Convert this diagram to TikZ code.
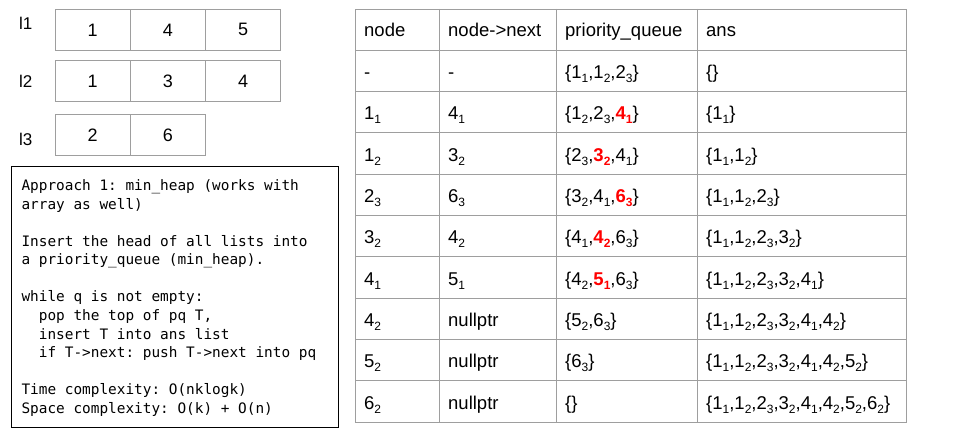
\documentclass[tikz,border=0pt]{standalone}
\usepackage{fontspec}
\setmainfont{Liberation Sans}
\newfontfamily\codefont{DejaVu Sans Mono}
\definecolor{gridgray}{HTML}{9E9E9E}
\definecolor{hotred}{HTML}{FF0000}
\newcommand\subn[1]{\raisebox{-4.2pt}{\fontsize{12}{12}\selectfont #1}}
\newcommand\redsub[2]{\textcolor{hotred}{\bfseries #1\subn{#2}}}
\newcommand\cl[1]{\hbox{\strut #1}}
\tikzset{
  grid/.style={draw=gridgray, line width=0.9pt},
  txt/.style={anchor=base west, inner sep=0pt, font=\fontsize{18.5}{22}\selectfont},
  listcell/.style={draw=gridgray, line width=0.9pt, minimum width=75.3pt, minimum height=41.3pt, inner sep=0pt, font=\fontsize{18}{22}\selectfont},
  lbl/.style={anchor=base west, inner sep=0pt, font=\fontsize{17}{20}\selectfont},
  codebox/.style={draw=black, line width=1pt, anchor=north west, minimum width=327pt, minimum height=261pt, inner sep=0pt},
  codetxt/.style={anchor=base west, inner sep=0pt, font=\codefont\fontsize{14.4}{18.55}\selectfont}
}
\begin{document}
\begin{tikzpicture}[x=1pt,y=-1pt]
\useasboundingbox (0,0) rectangle (960,435);
% lists
\node[lbl] (lab1) at (19,29.3) {l1};
\node[lbl] (lab2) at (19,87.7) {l2};
\node[lbl] (lab3) at (19,146) {l3};
\node[listcell] (l1a) at (92.65,29.9) {1};
\node[listcell] (l1b) at (167.95,29.9) {4};
\node[listcell] (l1c) at (243.25,29.9) {5};
\node[listcell] (l2a) at (92.65,80.9) {1};
\node[listcell] (l2b) at (167.95,80.9) {3};
\node[listcell] (l2c) at (243.25,80.9) {4};
\node[listcell] (l3a) at (92.65,135.2) {2};
\node[listcell] (l3b) at (167.95,135.2) {6};
% code box
\node[codebox] (code) at (11,166) {};
\node[codetxt] (codetext) at (21.3,190.7) {\frenchspacing\lineskiplimit=-100pt\lineskip=0pt\vtop{%
\hbox{Approach 1: min\_heap (works with}
\hbox{array as well)}
\hbox{}
\hbox{Insert the head of all lists into}
\hbox{a priority\_queue (min\_heap).}
\hbox{}
\hbox{while q is not empty:}
\hbox{\phantom{xx}pop the top of pq T,}
\hbox{\phantom{xx}insert T into ans list}
\hbox{\phantom{xx}if T->next: push T->next into pq}
\hbox{}
\hbox{Time complexity: O(nklogk)}
\hbox{Space complexity: O(k) + O(n)}}};
% table grid
\draw[grid] (355,9) rectangle (906,422);
\foreach \yy in {50,91.33,132.67,174,215.33,256.67,298,339.33,380.67}
  \draw[grid] (355,\yy) -- (906,\yy);
\foreach \xx in {439,556,697}
  \draw[grid] (\xx,9) -- (\xx,422);
% header
\node[txt] (h-a) at (364,36.5) {node};
\node[txt] (h-b) at (448,36.5) {node->next};
\node[txt] (h-c) at (565,36.5) {priority\_queue};
\node[txt] (h-d) at (706,36.5) {ans};
% rows
\foreach [count=\i] \a/\b/\c/\d in {
  {-}/{-}/{\{1\subn{1},1\subn{2},2\subn{3}\}}/{\{\}},
  {1\subn{1}}/{4\subn{1}}/{\{1\subn{2},2\subn{3},\redsub{4}{1}\}}/{\{1\subn{1}\}},
  {1\subn{2}}/{3\subn{2}}/{\{2\subn{3},\redsub{3}{2},4\subn{1}\}}/{\{1\subn{1},1\subn{2}\}},
  {2\subn{3}}/{6\subn{3}}/{\{3\subn{2},4\subn{1},\redsub{6}{3}\}}/{\{1\subn{1},1\subn{2},2\subn{3}\}},
  {3\subn{2}}/{4\subn{2}}/{\{4\subn{1},\redsub{4}{2},6\subn{3}\}}/{\{1\subn{1},1\subn{2},2\subn{3},3\subn{2}\}},
  {4\subn{1}}/{5\subn{1}}/{\{4\subn{2},\redsub{5}{1},6\subn{3}\}}/{\{1\subn{1},1\subn{2},2\subn{3},3\subn{2},4\subn{1}\}},
  {4\subn{2}}/{nullptr}/{\{5\subn{2},6\subn{3}\}}/{\{1\subn{1},1\subn{2},2\subn{3},3\subn{2},4\subn{1},4\subn{2}\}},
  {5\subn{2}}/{nullptr}/{\{6\subn{3}\}}/{\{1\subn{1},1\subn{2},2\subn{3},3\subn{2},4\subn{1},4\subn{2},5\subn{2}\}},
  {6\subn{2}}/{nullptr}/{\{\}}/{\{1\subn{1},1\subn{2},2\subn{3},3\subn{2},4\subn{1},4\subn{2},5\subn{2},6\subn{2}\}}
}{
  \node[txt] (r\i-a) at (364,{50+(\i-1)*41.33+28.4}) {\a};
  \node[txt] (r\i-b) at (448,{50+(\i-1)*41.33+28.4}) {\b};
  \node[txt] (r\i-c) at (565,{50+(\i-1)*41.33+28.4}) {\c};
  \node[txt] (r\i-d) at (706,{50+(\i-1)*41.33+28.4}) {\d};
}
\end{tikzpicture}
\end{document}
